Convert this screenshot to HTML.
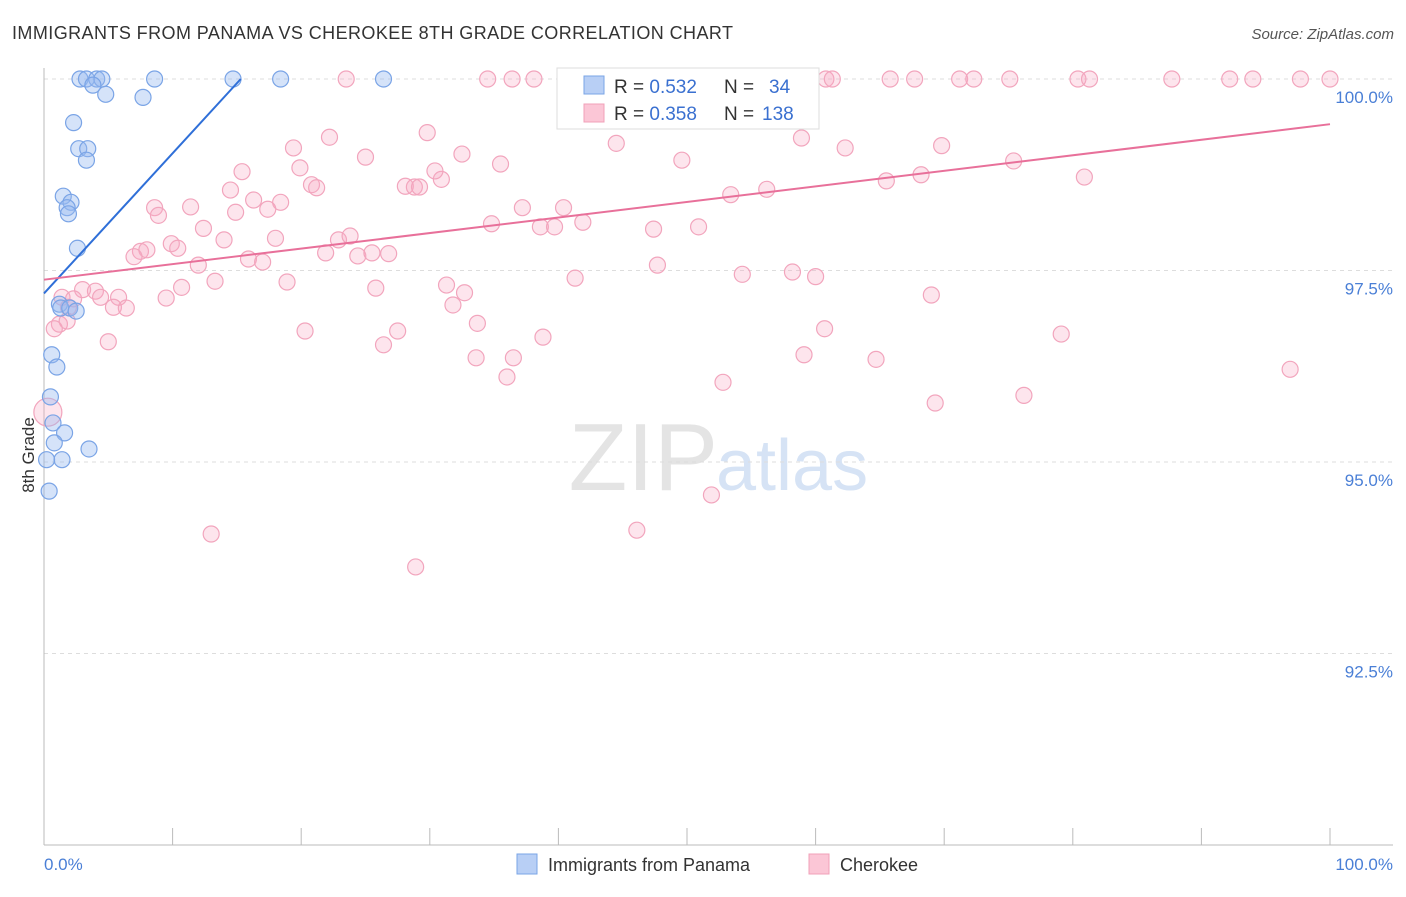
<!DOCTYPE html>
<html><head><meta charset="utf-8"><style>
body{margin:0;background:#fff;font-family:"Liberation Sans",sans-serif;}
svg text{font-family:"Liberation Sans",sans-serif;}
</style></head><body>
<svg id="chart" width="1406" height="892" xmlns="http://www.w3.org/2000/svg">
<text x="12" y="39" font-size="18" fill="#333" textLength="721">IMMIGRANTS FROM PANAMA VS CHEROKEE 8TH GRADE CORRELATION CHART</text>
<text x="1394" y="39" font-size="15" fill="#555" text-anchor="end" font-style="italic">Source: ZipAtlas.com</text>
<text x="718" y="490" font-size="96" fill="#e4e4e4" text-anchor="end" font-family="Liberation Serif">ZIP</text>
<text x="716" y="490" font-size="72" fill="#d6e3f5">atlas</text>
<g id="grid"></g><g id="pts"></g><g id="lines"></g>
<text transform="translate(34,455) rotate(-90)" font-size="17" fill="#333" text-anchor="middle">8th Grade</text>
<text x="44" y="870" font-size="17" fill="#4a7fd6">0.0%</text>
<text x="1393" y="870" font-size="17" fill="#4a7fd6" text-anchor="end">100.0%</text>
<g>
<rect x="557" y="68" width="262" height="61" fill="#fff" stroke="#ddd"/>
<rect x="584" y="76" width="20" height="18" fill="#b8cff5" stroke="#7aa4e6"/>
<rect x="584" y="104" width="20" height="18" fill="#fbc6d6" stroke="#f0a0b8"/>
<text x="614" y="93" font-size="19" fill="#333">R = <tspan fill="#3a70d0">0.532</tspan></text>
<text x="724" y="93" font-size="19" fill="#333">N = </text>
<text x="769" y="93" font-size="19" fill="#3a70d0">34</text>
<text x="614" y="120" font-size="19" fill="#333">R = <tspan fill="#3a70d0">0.358</tspan></text>
<text x="724" y="120" font-size="19" fill="#333">N = </text>
<text x="762" y="120" font-size="19" fill="#3a70d0">138</text>
</g>
<g>
<rect x="517" y="854" width="20" height="20" fill="#b8cff5" stroke="#7aa4e6"/>
<text x="548" y="871" font-size="18" fill="#333">Immigrants from Panama</text>
<rect x="809" y="854" width="20" height="20" fill="#fbc6d6" stroke="#f0a0b8"/>
<text x="840" y="871" font-size="18" fill="#333">Cherokee</text>
</g>
</svg>
<script>
const yTicks=[100,97.5,95,92.5];
const yTickLabels=["100.0%","97.5%","95.0%","92.5%"];
const blueX=[2.8,3.3,4.1,4.5,8.6,14.7,18.4,26.4,3.8,4.8,7.7,2.3,2.7,3.4,3.3,1.5,2.1,1.8,1.9,2.6,1.2,1.3,2.0,2.5,0.6,1.0,0.5,0.7,1.6,0.8,3.5,1.4,0.2,0.4];
const blueY=[100,100,100,100,100,100,100,100,99.92,99.8,99.76,99.43,99.09,99.09,98.94,98.47,98.39,98.32,98.24,97.79,97.06,97.01,97.01,96.97,96.4,96.24,95.85,95.51,95.38,95.25,95.17,95.03,95.03,94.62];
const pinkX=[
23.5,34.5,36.4,38.1,42.5,44.3,46.8,50.2,52.0,54.1,55.3,56.7,59.4,60.8,61.3,65.8,67.7,71.2,72.3,75.1,80.4,81.3,87.7,92.2,94.0,97.7,100,52.6,51.0,
44.5,49.6,58.9,62.3,69.8,75.4,80.9,65.5,68.2,53.4,
56.2,22.2,29.8,32.5,35.5,25.0,19.4,19.9,15.4,20.8,
21.2,14.5,16.3,18.4,11.4,8.6,8.9,14.9,17.4,28.1,
28.8,29.2,30.9,30.4,37.2,40.4,34.8,38.6,39.7,41.9,
47.4,50.9,12.4,14.0,9.9,10.4,7.5,8.0,7.0,12.0,
15.9,17.0,18.0,21.9,22.9,23.8,24.4,25.5,26.8,41.3,
47.7,54.3,58.2,60.0,13.3,18.9,10.7,9.5,25.8,31.3,
32.7,31.8,33.7,69.0,3.0,4.0,4.4,5.8,5.4,6.4,
1.4,1.9,2.3,1.2,1.8,0.8,5.0,20.3,27.5,26.4,
38.8,60.7,79.1,33.6,36.5,59.1,64.7,36.0,52.8,96.9,
69.3,76.2,13.0,28.9,46.1,51.9,0.3];
const pinkY=[
100,100,100,100,100,100,100,100,100,100,100,100,100,100,100,100,100,100,100,100,100,100,100,100,100,100,100,100,100,
99.16,98.94,99.23,99.10,99.13,98.93,98.72,98.67,98.75,98.49,
98.56,99.24,99.30,99.02,98.89,98.98,99.10,98.84,98.79,98.62,
98.58,98.55,98.42,98.39,98.33,98.32,98.22,98.26,98.30,98.60,
98.59,98.59,98.69,98.80,98.32,98.32,98.11,98.07,98.07,98.13,
98.04,98.07,98.05,97.90,97.85,97.79,97.75,97.77,97.68,97.57,
97.65,97.61,97.92,97.73,97.90,97.95,97.69,97.73,97.72,97.40,
97.57,97.45,97.48,97.42,97.36,97.35,97.28,97.14,97.27,97.31,
97.21,97.05,96.81,97.18,97.25,97.23,97.15,97.15,97.02,97.01,
97.15,97.02,97.13,96.80,96.84,96.74,96.57,96.71,96.71,96.53,
96.63,96.74,96.67,96.36,96.36,96.40,96.34,96.11,96.04,96.21,
95.77,95.87,94.06,93.63,94.11,94.57,95.65];
const pinkR=pinkX.map((x,i)=>i===pinkX.length-1?14:8);
const X0=44,X1=1330,Y0=79,PXY=76.6;
const sx=v=>X0+(X1-X0)*v/100, sy=v=>Y0+(100-v)*PXY;
const NS="http://www.w3.org/2000/svg";
function mk(t,a,p){const e=document.createElementNS(NS,t);for(const k in a)e.setAttribute(k,a[k]);p.appendChild(e);return e;}
const grid=document.getElementById('grid');
yTicks.forEach((v,i)=>{
 const l=mk('line',{x1:44,x2:1393,y1:sy(v),y2:sy(v),stroke:'#ddd','stroke-dasharray':'4,4'},grid);
 
 
 const t=mk('text',{x:1393,y:sy(v)+24,'font-size':17,fill:'#4a7fd6','text-anchor':'end'},grid);
 t.textContent=yTickLabels[i];
 
 
});
const ax=mk('line',{x1:44,x2:1393,y1:845,y2:845,stroke:'#bbb'},grid);


const ay=mk('line',{x1:44,x2:44,y1:68,y2:845,stroke:'#bbb'},grid);


for(let i=0;i<=10;i++){const tk=mk('line',{x1:sx(i*10),x2:sx(i*10),y1:828,y2:845,stroke:'#bbb'},grid);
 
 }
const pts=document.getElementById('pts');
pinkX.forEach((x,i)=>{const c=mk('circle',{cx:sx(x),cy:sy(pinkY[i]),r:pinkR[i],fill:'rgba(248,170,195,0.3)',stroke:'#f2a5bd','stroke-width':1.2},pts);
 
 });
blueX.forEach((x,i)=>{const c=mk('circle',{cx:sx(x),cy:sy(blueY[i]),r:8,fill:'rgba(150,185,240,0.4)',stroke:'#7aa4e6','stroke-width':1.2},pts);
 
 });
const lines=document.getElementById('lines');
const bl=mk('line',{x1:sx(0),y1:sy(97.2),x2:sx(15.3),y2:sy(100),stroke:'#2f6fd8','stroke-width':2},lines);


const pl=mk('line',{x1:sx(0),y1:sy(97.38),x2:sx(100),y2:sy(99.41),stroke:'#e8709a','stroke-width':2},lines);


</script>
</body></html>
